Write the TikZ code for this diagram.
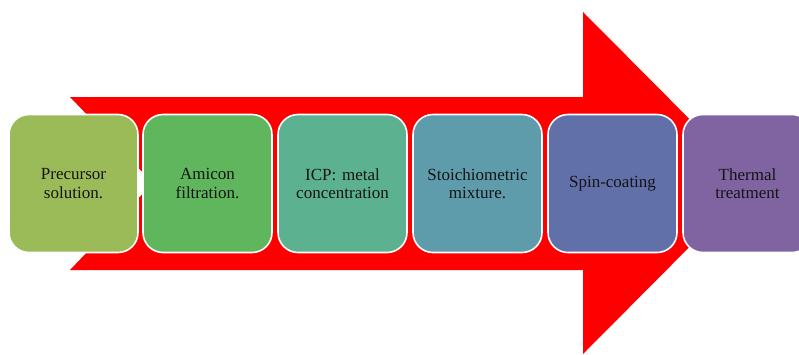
\documentclass[tikz,border=0pt]{standalone}
\usepackage{fontspec}
\setmainfont{Liberation Serif}
\definecolor{arrowred}{RGB}{255,0,0}
\definecolor{c1}{RGB}{155,187,89}
\definecolor{c2}{RGB}{96,182,93}
\definecolor{c3}{RGB}{92,178,144}
\definecolor{c4}{RGB}{94,156,172}
\definecolor{c5}{RGB}{98,112,170}
\definecolor{c6}{RGB}{128,100,162}
\definecolor{txt}{RGB}{20,20,20}
\tikzset{
  stepbox/.style={draw=white, line width=1.6pt, rounded corners=20pt,
    minimum width=129pt, minimum height=138pt, text width=122pt,
    align=center, inner sep=0pt, text=txt,
    font=\fontsize{17}{18.5}\selectfont},
}
\begin{document}
\begin{tikzpicture}[x=1pt, y=-1pt]
\useasboundingbox (0,0) rectangle (799,354);
\clip (0,0) rectangle (799,354);
\fill[white] (0,0) rectangle (799,354);
% notched block arrow behind the steps
\fill[arrowred] (70,97) -- (583,97) -- (583,12) -- (753,183) -- (583,354)
  -- (583,270) -- (70,270) -- (153,183) -- cycle;
% process steps
\node[stepbox, fill=c1] (b1) at (73.5,183.5) {Precursor\\solution.};
\node[stepbox, fill=c2] (b2) at (207.5,183.5) {Amicon\\filtration.};
\node[stepbox, fill=c3] (b3) at (342.5,183.5) {ICP: metal\\concentration};
\node[stepbox, fill=c4] (b4) at (477.5,183.5) {Stoichiometric\\mixture.};
\node[stepbox, fill=c5] (b5) at (612.5,183.5) {Spin-coating};
\node[stepbox, fill=c6] (b6) at (747.5,183.5) {Thermal\\treatment};
\end{tikzpicture}
\end{document}
